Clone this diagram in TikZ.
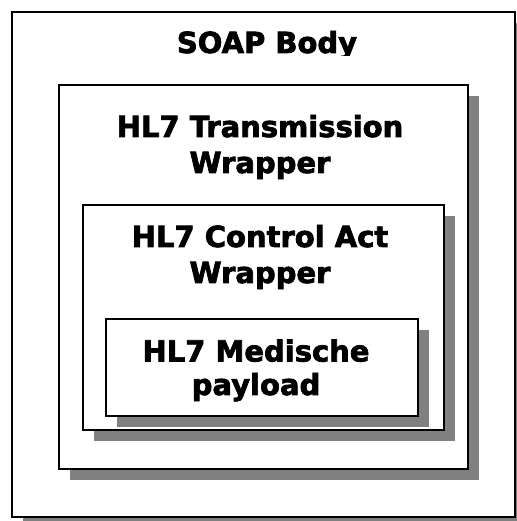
\documentclass[tikz,border=0pt]{standalone}
\usepackage{fontspec}
\setmainfont{DejaVu Sans}
\newfontfamily\boxfont{DejaVu Sans Bold}[FakeBold=2.5]
\usetikzlibrary{shadows}
\begin{document}
\begin{tikzpicture}[x=1pt,y=1pt,
  layer/.style={draw=black, line width=2.4pt, fill=white, inner sep=0pt,
    drop shadow={shadow xshift=11pt, shadow yshift=-11pt, fill=gray, opacity=1}},
  lbl/.style={font=\boxfont\fontsize{29}{36}\selectfont, align=center, inner sep=0pt, anchor=base}
]
\useasboundingbox (0,0) rectangle (516,521);
\node[layer, minimum width=503pt, minimum height=505pt] (soap) at (263.5,256.5) {};
\begin{scope}
  \clip (0,465) rectangle (516,521);
  \node[lbl] (soaplbl) at (267,468) {SOAP Body};
\end{scope}
\node[layer, minimum width=409pt, minimum height=384pt] (trans) at (263.5,244) {};
\node[lbl] (translbl) at (260,348) {HL7 Transmission\\Wrapper};
\node[layer, minimum width=361pt, minimum height=225pt] (ctrl) at (263.5,203.5) {};
\node[lbl] (ctrllbl) at (260,238) {HL7 Control Act\\Wrapper};
\node[layer, minimum width=312pt, minimum height=97pt] (payload) at (262,153.5) {};
\node[lbl, font=\boxfont\fontsize{29}{33.5}\selectfont] (payloadlbl) at (256,126) {HL7 Medische\\payload};
\end{tikzpicture}
\end{document}
